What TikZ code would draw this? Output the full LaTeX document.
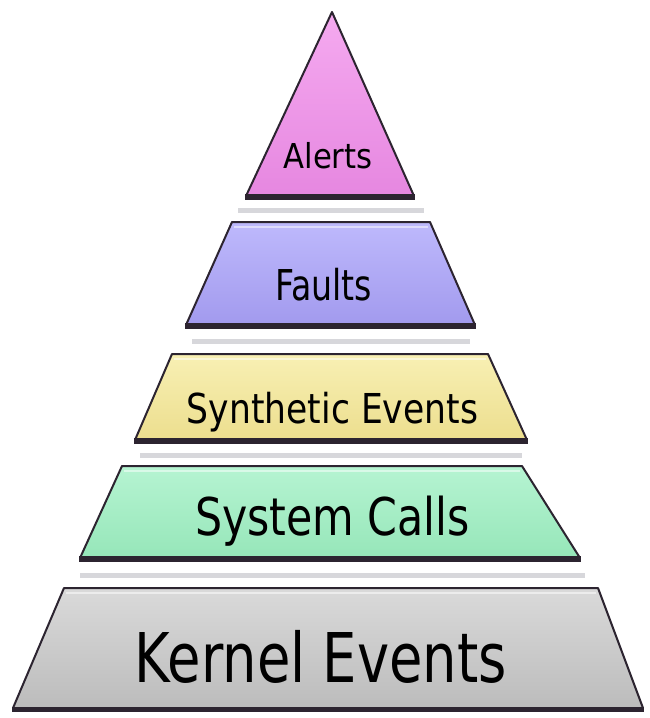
\documentclass[tikz,border=0pt]{standalone}
\usepackage{fontspec}
\setmainfont{DejaVu Sans}
\usepackage{graphicx}
\newcommand\pyrlabel[3]{\resizebox{#2pt}{\height}{\fontsize{#1}{#1}\selectfont #3}}
\definecolor{edgecol}{RGB}{44,36,48}
\definecolor{shadowcol}{RGB}{205,205,210}
\begin{document}
\begin{tikzpicture}[x=1pt,y=-1pt,
  outline/.style={draw=edgecol,line width=2pt,line join=round},
  bottomedge/.style={draw=edgecol,line width=5.5pt,line cap=butt},
  highlight/.style={draw=white,opacity=0.5,line width=2pt},
  shadowline/.style={draw=shadowcol,line width=5pt,opacity=0.8},
  lbl/.style={anchor=base,inner sep=0pt,text=black}]
\useasboundingbox (0,0) rectangle (649,718);
\fill[white] (0,0) rectangle (649,718);

% ---- Alerts (triangle)
\draw[shadowline] (238,210) -- (424,210);
\shade[top color={rgb,255:red,245;green,170;blue,240},bottom color={rgb,255:red,230;green,135;blue,224}]
  (332,12) -- (414,196) -- (246,196) -- cycle;
\draw[outline] (332,12) -- (414,196) -- (246,196) -- cycle;
\draw[bottomedge] (245,197) -- (415,197);
\node[lbl] (alerts) at (328,168) {\pyrlabel{34.3}{89}{Alerts}};

% ---- Faults
\draw[shadowline] (192,341) -- (470,341);
\shade[top color={rgb,255:red,190;green,185;blue,252},bottom color={rgb,255:red,162;green,154;blue,238}]
  (232,222) -- (430,222) -- (475,325) -- (186,325) -- cycle;
\draw[highlight] (234,227) -- (428,227);
\draw[outline] (232,222) -- (430,222) -- (475,325) -- (186,325) -- cycle;
\draw[bottomedge] (185,326) -- (476,326);
\node[lbl] (faults) at (323.5,300) {\pyrlabel{42.5}{97}{Faults}};

% ---- Synthetic Events
\draw[shadowline] (140,455) -- (522,455);
\shade[top color={rgb,255:red,248;green,240;blue,180},bottom color={rgb,255:red,236;green,222;blue,142}]
  (172,354) -- (488,354) -- (527,440) -- (135,440) -- cycle;
\draw[highlight] (174,359) -- (486,359);
\draw[outline] (172,354) -- (488,354) -- (527,440) -- (135,440) -- cycle;
\draw[bottomedge] (134,441) -- (528,441);
\node[lbl] (synth) at (332.5,423) {\pyrlabel{41.2}{291}{Synthetic Events}};

% ---- System Calls
\draw[shadowline] (80,575) -- (585,575);
\shade[top color={rgb,255:red,182;green,244;blue,210},bottom color={rgb,255:red,150;green,230;blue,185}]
  (122,466) -- (522,466) -- (580,558) -- (80,558) -- cycle;
\draw[highlight] (124,471) -- (520,471);
\draw[outline] (122,466) -- (522,466) -- (580,558) -- (80,558) -- cycle;
\draw[bottomedge] (79,559) -- (581,559);
\node[lbl] (syscalls) at (332.5,535) {\pyrlabel{52}{275}{System Calls}};

% ---- Kernel Events
\shade[top color={rgb,255:red,218;green,218;blue,218},bottom color={rgb,255:red,188;green,188;blue,188}]
  (64,588) -- (598,588) -- (643,708) -- (13,708) -- cycle;
\draw[highlight] (66,593) -- (596,593);
\draw[outline] (64,588) -- (598,588) -- (643,708) -- (13,708) -- cycle;
\draw[bottomedge] (12,709.5) -- (644,709.5);
\node[lbl] (kernel) at (321,682) {\pyrlabel{68.6}{372}{Kernel Events}};
\end{tikzpicture}
\end{document}
